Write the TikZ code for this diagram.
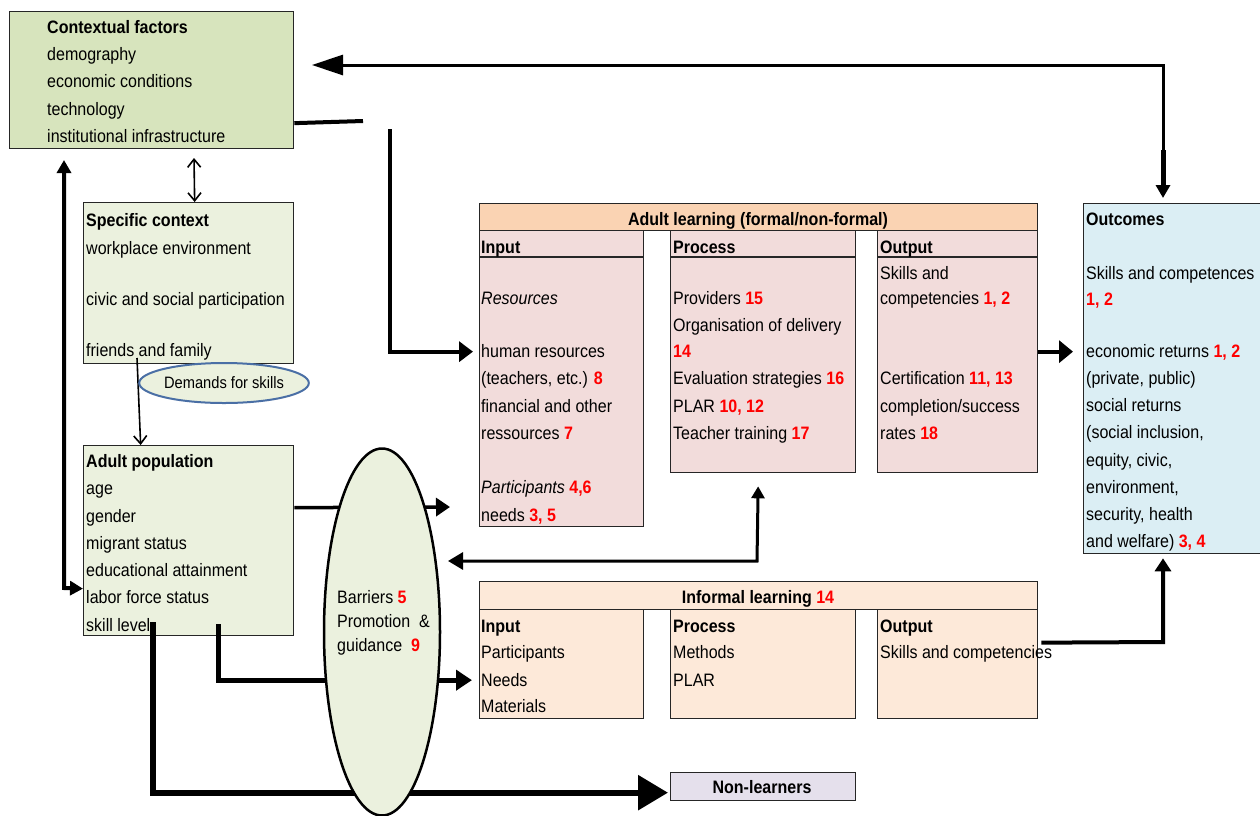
\documentclass[tikz,border=0pt]{standalone}
\usepackage{fontspec}
\setmainfont{Liberation Sans}[FakeStretch=0.89]
\usetikzlibrary{arrows.meta,shapes.geometric}
\definecolor{ctxfill}{HTML}{D7E4BD}
\definecolor{greenfill}{HTML}{EBF1DE}
\definecolor{alheadfill}{HTML}{FAD3B3}
\definecolor{alfill}{HTML}{F2DCDB}
\definecolor{inffill}{HTML}{FDE9D9}
\definecolor{outfill}{HTML}{DBEEF4}
\definecolor{nonfill}{HTML}{E5E0EC}
\definecolor{ellblue}{HTML}{4A6FA5}
\newcommand{\rnum}[1]{\textcolor{red}{\textbf{#1}}}
\begin{document}
\begin{tikzpicture}[x=1pt,y=-1pt,
  box/.style={draw=black!85, line width=1.3pt, anchor=north west, inner sep=0pt, rectangle},
  txt/.style={anchor=base west, inner sep=0pt, font=\fontsize{18}{22}\selectfont},
  ttl/.style={anchor=base west, inner sep=0pt, font=\fontsize{18}{22}\selectfont\bfseries},
  ctitle/.style={anchor=base, inner sep=0pt, font=\fontsize{18}{22}\selectfont\bfseries}
]
\useasboundingbox (0,0) rectangle (1260,815);
\fill[white] (0,0) rectangle (1260,815);

% ---------- boxes ----------
\node[box, fill=ctxfill, minimum width=284pt, minimum height=137pt] (ctx) at (9,11) {};
\node[box, fill=greenfill, minimum width=210pt, minimum height=161pt] (spec) at (83,202) {};
\node[box, fill=greenfill, minimum width=210pt, minimum height=190pt] (adult) at (83,445) {};

\node[box, fill=alheadfill, minimum width=558pt, minimum height=27pt] (alhead) at (479,203) {};
\node[box, fill=alfill, minimum width=164pt, minimum height=296pt] (alin) at (479,230) {};
\node[box, fill=alfill, minimum width=185pt, minimum height=242pt] (alproc) at (670,230) {};
\node[box, fill=alfill, minimum width=160pt, minimum height=242pt] (alout) at (877,230) {};
\draw[line width=1.3pt, black!85] ([yshift=-27pt]alin.north west) -- ([yshift=-27pt]alin.north east);
\draw[line width=1.3pt, black!85] ([yshift=-27pt]alproc.north west) -- ([yshift=-27pt]alproc.north east);
\draw[line width=1.3pt, black!85] ([yshift=-27pt]alout.north west) -- ([yshift=-27pt]alout.north east);

\node[box, fill=outfill, minimum width=200pt, minimum height=350pt] (outc) at (1083,203) {};

\node[box, fill=inffill, minimum width=558pt, minimum height=28pt] (infhead) at (479,581) {};
\node[box, fill=inffill, minimum width=164pt, minimum height=109pt] (infin) at (479,609) {};
\node[box, fill=inffill, minimum width=185pt, minimum height=109pt] (infproc) at (670,609) {};
\node[box, fill=inffill, minimum width=160pt, minimum height=109pt] (infout) at (877,609) {};

\node[box, fill=nonfill, minimum width=185pt, minimum height=28pt] (nonl) at (670,772) {};

% ---------- texts ----------
\node[ttl] (ctxt0) at (47,33) {Contextual factors};
\node[txt] (ctxt1) at (47,60.5) {demography};
\node[txt] (ctxt2) at (47,87.5) {economic conditions};
\node[txt] (ctxt3) at (47,115) {technology};
\node[txt] (ctxt4) at (47,142.5) {institutional infrastructure};

\node[ttl] (spt0) at (86,226) {Specific context};
\node[txt] (spt1) at (86,254) {workplace environment};
\node[txt] (spt2) at (86,305) {civic and social participation};
\node[txt] (spt3) at (86,356) {friends and family};

\node[ttl] (apt0) at (86,467) {Adult population};
\node[txt] (apt1) at (86,494) {age};
\node[txt] (apt2) at (86,522) {gender};
\node[txt] (apt3) at (86,549) {migrant status};
\node[txt] (apt4) at (86,576) {educational attainment};
\node[txt] (apt5) at (86,603) {labor force status};
\node[txt] (apt6) at (86,631) {skill level};

\node[ctitle] (alheadt) at (758,225) {Adult learning (formal/non-formal)};
\node[ttl] (alint0) at (481,253) {Input};
\node[txt] (alint1) at (481,304) {\itshape Resources};
\node[txt] (alint2) at (481,357) {human resources};
\node[txt] (alint3) at (481,384) {(teachers, etc.) \rnum{8}};
\node[txt] (alint4) at (481,412) {financial and other};
\node[txt] (alint5) at (481,439) {ressources \rnum{7}};
\node[txt] (alint6) at (481,493) {\itshape Participants \upshape\rnum{4,6}};
\node[txt] (alint7) at (481,521) {needs \rnum{3, 5}};

\node[ttl] (alprt0) at (673,253) {Process};
\node[txt] (alprt1) at (673,304) {Providers \rnum{15}};
\node[txt] (alprt2) at (673,331) {Organisation of delivery};
\node[txt] (alprt3) at (673,357) {\rnum{14}};
\node[txt] (alprt4) at (673,384) {Evaluation strategies \rnum{16}};
\node[txt] (alprt5) at (673,412) {PLAR \rnum{10, 12}};
\node[txt] (alprt6) at (673,439) {Teacher training \rnum{17}};

\node[ttl] (aloutt0) at (880,253) {Output};
\node[txt] (aloutt1) at (880,279) {Skills and};
\node[txt] (aloutt2) at (880,304) {competencies \rnum{1, 2}};
\node[txt] (aloutt3) at (880,384) {Certification \rnum{11, 13}};
\node[txt] (aloutt4) at (880,412) {completion/success};
\node[txt] (aloutt5) at (880,439) {rates \rnum{18}};

\node[ttl] (oct0) at (1086,225) {Outcomes};
\node[txt] (oct1) at (1086,279) {Skills and competences};
\node[txt] (oct2) at (1086,305) {\rnum{1, 2}};
\node[txt] (oct3) at (1086,357) {economic returns \rnum{1, 2}};
\node[txt] (oct4) at (1086,384) {(private, public)};
\node[txt] (oct5) at (1086,411) {social returns};
\node[txt] (oct6) at (1086,438) {(social inclusion,};
\node[txt] (oct7) at (1086,466) {equity, civic,};
\node[txt] (oct8) at (1086,493) {environment,};
\node[txt] (oct9) at (1086,520) {security, health};
\node[txt] (oct10) at (1086,547) {and welfare) \rnum{3, 4}};

\node[ctitle] (infheadt) at (758,603) {Informal learning \rnum{14}};
\node[ttl] (infint0) at (481,632) {Input};
\node[txt] (infint1) at (481,658) {Participants};
\node[txt] (infint2) at (481,686) {Needs};
\node[txt] (infint3) at (481,712) {Materials};
\node[ttl] (infprt0) at (673,632) {Process};
\node[txt] (infprt1) at (673,658) {Methods};
\node[txt] (infprt2) at (673,686) {PLAR};
\node[ttl] (infoutt0) at (880,632) {Output};
\node[txt] (infoutt1) at (880,658) {Skills and competencies};

\node[ctitle] (nonlt) at (762,793) {Non-learners};

% ---------- connectors ----------
\coordinate (ctxlow) at (194,158);
\draw[line width=1.6pt, {Straight Barb[length=8pt,width=13pt]}-{Straight Barb[length=8pt,width=13pt]}] ([xshift=6pt]spec.north) -- (ctxlow);
\coordinate (specout) at (137,358);
\draw[line width=1.6pt, -{Straight Barb[length=8pt,width=13pt]}] (specout) -- ([xshift=-48pt]adult.north);
\coordinate (loopcorner) at (64,588);
\coordinate (looptop) at (64,160);
\draw[line width=4pt, {Triangle[length=13pt,width=14pt]}-{Triangle[length=13pt,width=14pt]}] ([yshift=-48pt]adult.west) -- (loopcorner) -- (looptop);
\coordinate (ctxin) at (312,65);
\coordinate (outtop) at (1163,150);
\coordinate (topcorner) at (1163,65);
\draw[line width=3pt, -{Triangle[length=31pt,width=20pt]}] (outtop) -- (topcorner) -- (ctxin);
\draw[line width=5pt, -{Triangle[length=13pt,width=14pt]}] (outtop) -- ([xshift=80pt,yshift=5pt]outc.north west);
\coordinate (stubend) at (363,121);
\draw[line width=4pt] ([yshift=-43pt]ctx.east) -- (stubend);
\coordinate (dropstart) at (390,129);
\draw[line width=4pt, -{Triangle[length=14pt,width=20pt]}] (dropstart) |- ([xshift=-6pt,yshift=27pt]alin.west);
\draw[line width=4pt, -{Triangle[length=14pt,width=22pt]}] (alout.east) -- ([xshift=-10pt]outc.west |- alout.east);
\coordinate (infcorner) at (1163,642);
\draw[line width=4pt, -{Triangle[length=13pt,width=16pt]}] ([xshift=3pt,yshift=21.5pt]infout.east) -- (infcorner) -- ([xshift=80pt,yshift=-4pt]outc.south west);
\coordinate (fbend) at (448,561);
\coordinate (fbcorner) at (757,561);
\draw[line width=3pt, {Triangle[length=15pt,width=17pt]}-{Triangle[length=12pt,width=13pt]}] (fbend) -- (fbcorner) -- ([xshift=-5pt,yshift=-13pt]alproc.south);
\coordinate (a1end) at (450,507);
\draw[line width=3.5pt, -{Triangle[length=14pt,width=18pt]}] ([yshift=33pt]adult.east) -- (a1end);
\draw[line width=5pt, -{Triangle[length=16pt,width=20pt]}] ([xshift=30pt,yshift=12pt]adult.south) |- ([xshift=-7pt,yshift=-16pt]infin.west);
\draw[line width=6pt, -{Triangle[length=30pt,width=34pt]}] ([xshift=-36pt,yshift=14pt]adult.south) |- ([xshift=-2pt,yshift=-6pt]nonl.west);

% ---------- ellipses ----------
\node[ellipse, draw=ellblue, line width=2pt, fill=greenfill, minimum width=161pt, minimum height=40pt, inner sep=0pt,
      font=\fontsize{16.5}{18}\selectfont] (dem) at (224,383) {Demands for skills};
\node[ellipse, draw=black, line width=2.5pt, fill=greenfill, minimum width=116pt, minimum height=367pt, inner sep=0pt] (barr) at (382,632) {};
\node[txt] (barrt1) at (337,603) {Barriers \rnum{5}};
\node[txt] (barrt2) at (337,627) {Promotion \ \&};
\node[txt] (barrt3) at (337,651) {guidance \ \rnum{9}};
\end{tikzpicture}
\end{document}
